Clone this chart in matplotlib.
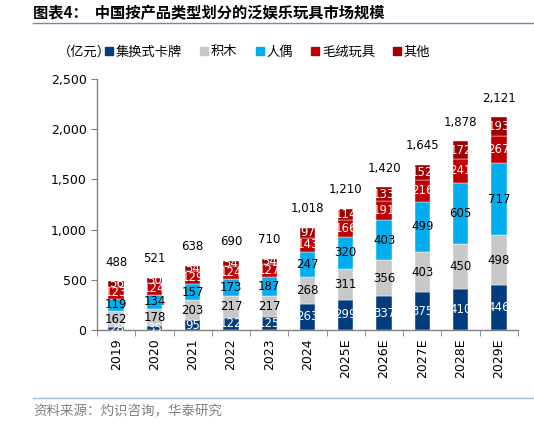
import matplotlib
matplotlib.use("Agg")
import matplotlib.pyplot as plt
from matplotlib.lines import Line2D
import numpy as np

plt.rcParams['font.family'] = ['Noto Sans CJK SC', 'DejaVu Sans']

years = ["2019", "2020", "2021", "2022", "2023", "2024", "2025E", "2026E", "2027E", "2028E", "2029E"]
cards = [28, 35, 95, 122, 125, 263, 299, 337, 375, 410, 446]
blocks = [162, 178, 203, 217, 217, 268, 311, 356, 403, 450, 498]
figures = [119, 134, 157, 173, 187, 247, 320, 403, 499, 605, 717]
plush = [123, 124, 129, 124, 127, 143, 166, 191, 216, 241, 267]
others = [56, 50, 54, 54, 54, 97, 114, 133, 152, 172, 193]
totals = [488, 521, 638, 690, 710, 1018, 1210, 1420, 1645, 1878, 2121]

series_names = ["集换式卡牌", "积木", "人偶", "毛绒玩具", "其他"]
series = [cards, blocks, figures, plush, others]
colors = ["#003C7E", "#C8C8C8", "#00AEEF", "#C00000", "#A20000"]
label_colors = ["white", "black", "black", "white", "white"]

fig = plt.figure(figsize=(5.34, 4.23), dpi=100)
ax = fig.add_axes([97/534, 1-330/423, (518-97)/534, (330-79)/423])

x = np.arange(len(years))
bottom = np.zeros(len(years))
for vals, c, lc, name in zip(series, colors, label_colors, series_names):
    vals = np.array(vals, dtype=float)
    ax.bar(x, vals, 0.4, bottom=bottom, color=c, edgecolor="white", linewidth=0.3, label=name)
    for xi, b, v in zip(x, bottom, vals):
        ax.text(xi, b + v/2, f"{int(v)}", ha="center", va="center", fontsize=8.5,
                color=lc, family="DejaVu Sans")
    bottom += vals

for xi, t in zip(x, totals):
    ax.annotate(f"{t:,}", (xi, t), xytext=(0, 9), textcoords="offset points",
                ha="center", va="bottom", fontsize=8.5, family="DejaVu Sans")

ax.set_xlim(-0.5, len(years) - 0.5)
ax.set_ylim(0, 2500)
ax.set_yticks(np.arange(0, 2501, 500))
ax.yaxis.set_major_formatter(matplotlib.ticker.FuncFormatter(lambda v, p: f"{int(v):,}"))
ax.set_xticks(x)
ax.set_xticklabels(years, rotation=90, fontsize=9, family="DejaVu Sans")
ax.set_xticks(np.arange(-0.5, len(years)), minor=True)
ax.tick_params(axis="x", which="major", length=0, pad=6)
ax.tick_params(axis="x", which="minor", length=4, direction="out", color="#808080")
ax.tick_params(axis="y", labelsize=9, length=4, color="#808080")
for lab in ax.get_yticklabels():
    lab.set_family("DejaVu Sans")
for s in ["top", "right"]:
    ax.spines[s].set_visible(False)
for s in ["left", "bottom"]:
    ax.spines[s].set_color("#808080")
    ax.spines[s].set_linewidth(1.0)

# Title
fig.text(33/534, 1-13/423, "图表4：  中国按产品类型划分的泛娱乐玩具市场规模", fontsize=11,
         fontweight="bold", ha="left", va="center")
fig.add_artist(Line2D([33/534, 1.0], [1-23/423, 1-23/423], color="#6E8AB4", linewidth=1.0))

# Legend
fig.text(58/534, 1-52/423, "（亿元）", fontsize=9.5, ha="left", va="center")
handles = [Line2D([], [], marker="s", linestyle="none", markersize=5.5, color=c) for c in colors]
fig.legend(handles, series_names, loc="center left", bbox_to_anchor=(97/534, 1-52/423),
           ncol=5, frameon=False, fontsize=9.5, handlelength=0.8, handletextpad=0.1,
           columnspacing=1.3, borderpad=0)

# Footer
fig.add_artist(Line2D([33/534, 1.0], [1-398/423, 1-398/423], color="#A8BCD8", linewidth=1.0))
fig.text(33/534, 1-411/423, "资料来源：灼识咨询，华泰研究", fontsize=9.7, color="#808080",
         ha="left", va="center")

fig.savefig("out.png", dpi=100)
